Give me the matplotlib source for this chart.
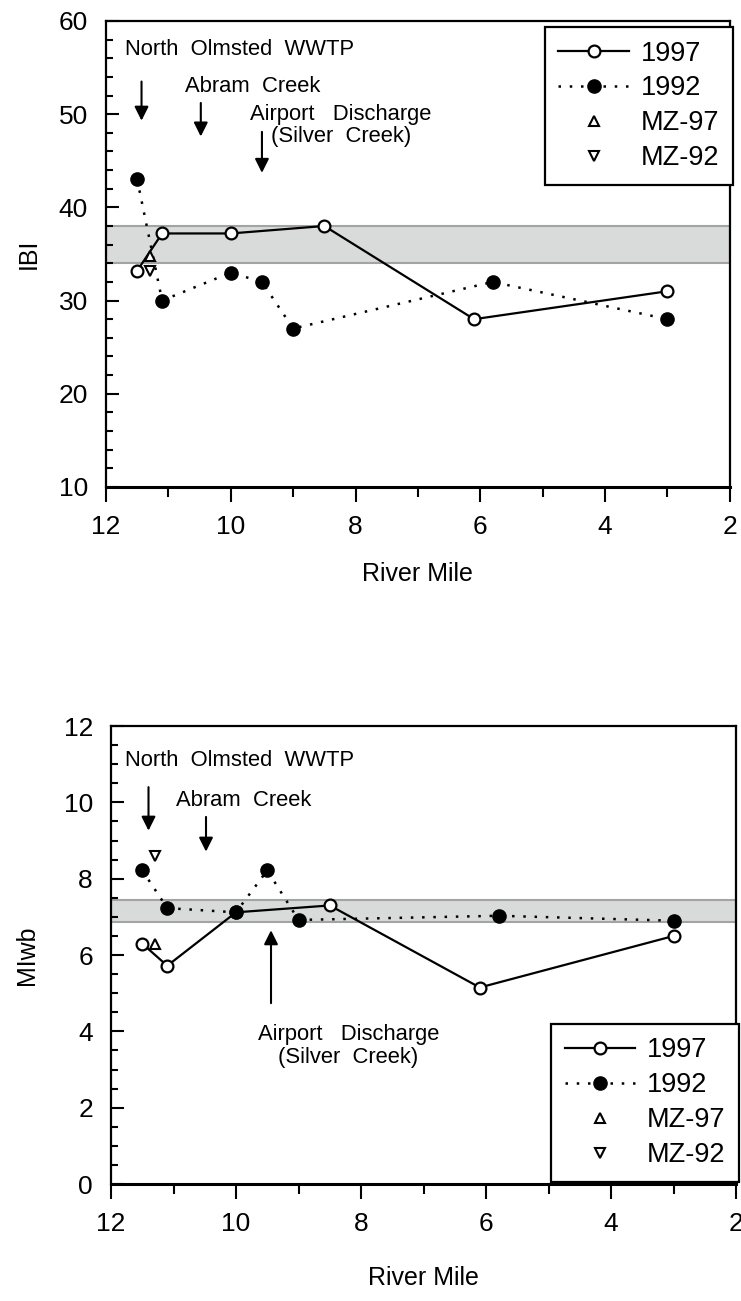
import matplotlib
matplotlib.use("Agg")
import matplotlib.pyplot as plt
from matplotlib.ticker import MultipleLocator

plt.rcParams["font.family"] = ["Liberation Sans", "DejaVu Sans"]

# --- IBI data (top panel) ---
ibi_mile_97 = [11.5, 11.1, 10.0, 8.5, 6.1, 3.0]
ibi_97 = [33.2, 37.2, 37.2, 38.0, 28.0, 31.0]
ibi_mile_92 = [11.5, 11.1, 10.0, 9.5, 9.0, 5.8, 3.0]
ibi_92 = [43.0, 30.0, 33.0, 32.0, 27.0, 32.0, 28.0]
ibi_mz_mile = [11.3]
ibi_mz_97 = [34.8]
ibi_mz_92 = [33.2]
ibi_band = (34, 38)

# --- MIwb data (bottom panel) ---
mi_mile_97 = [11.5, 11.1, 10.0, 8.5, 6.1, 3.0]
mi_97 = [6.3, 5.72, 7.12, 7.3, 5.15, 6.5]
mi_mile_92 = [11.5, 11.1, 10.0, 9.5, 9.0, 5.8, 3.0]
mi_92 = [8.22, 7.23, 7.12, 8.22, 6.92, 7.03, 6.9]
mi_mz_mile = [11.3]
mi_mz_97 = [6.3]
mi_mz_92 = [8.6]
mi_band = (6.87, 7.44)

legend_labels = ["1997", "1992", "MZ-97", "MZ-92"]

fig = plt.figure(figsize=(7.41, 13.01), dpi=100)
ax1 = fig.add_axes([0.143, 0.6257, 0.842, 0.3582])
ax2 = fig.add_axes([0.1498, 0.0899, 0.8435, 0.352])

arrow_kw = dict(arrowstyle="-|>,head_length=0.6,head_width=0.3", color="k",
                lw=1.5, mutation_scale=14, shrinkA=0, shrinkB=0)
leg_kw = dict(fontsize=19.5, handlelength=2.6, handletextpad=0.45,
              borderpad=0.5, labelspacing=0.33, borderaxespad=0,
              fancybox=False, edgecolor="k", framealpha=1)


def draw_panel(ax, m97, v97, m92, v92, mzm, mz97, mz92, band):
    ax.axhspan(band[0], band[1], facecolor="#d9dbdb", edgecolor="#a3a3a3",
               lw=1.5, zorder=1)
    h1, = ax.plot(m97, v97, "-", color="k", lw=1.6, marker="o", ms=8.5,
                  mfc="white", mec="k", mew=1.6, zorder=3)
    h2, = ax.plot(m92, v92, linestyle=(0, (1, 3.5)), color="k", lw=1.8,
                  marker="o", ms=9.5, mfc="k", mec="k", zorder=4)
    h3, = ax.plot(mzm, mz97, "^", ms=7, mfc="white", mec="k", mew=1.5,
                  linestyle="none", zorder=5)
    h4, = ax.plot(mzm, mz92, "v", ms=7, mfc="white", mec="k", mew=1.5,
                  linestyle="none", zorder=5)
    ax.set_xlim(12, 2)
    ax.xaxis.set_major_locator(MultipleLocator(2))
    ax.xaxis.set_minor_locator(MultipleLocator(1))
    ax.tick_params(axis="x", which="major", direction="out", length=11,
                   width=1.5, labelsize=19, pad=9)
    ax.tick_params(axis="x", which="minor", direction="out", length=7,
                   width=1.5)
    ax.tick_params(axis="y", which="major", direction="in", length=9,
                   width=1.5, labelsize=19, pad=13)
    ax.tick_params(axis="y", which="minor", direction="in", length=5,
                   width=1.5)
    for s in ax.spines.values():
        s.set_linewidth(1.6)
    ax.spines["bottom"].set_linewidth(2.2)
    ax.set_xlabel("River Mile", fontsize=18)
    return [h1, h2, h3, h4]


# --- Top: IBI ---
hs = draw_panel(ax1, ibi_mile_97, ibi_97, ibi_mile_92, ibi_92,
                ibi_mz_mile, ibi_mz_97, ibi_mz_92, ibi_band)
ax1.set_ylim(10, 60)
ax1.yaxis.set_major_locator(MultipleLocator(10))
ax1.yaxis.set_minor_locator(MultipleLocator(2))
ax1.set_ylabel("IBI", fontsize=18)
ax1.yaxis.set_label_coords(-0.105, 0.5)
ax1.xaxis.set_label_coords(0.5, -0.161)
ax1.legend(hs, legend_labels, loc="upper right", bbox_to_anchor=(1.005, 0.987),
           **leg_kw).get_frame().set_linewidth(1.6)

ax1.text(11.7, 56.9, "North  Olmsted  WWTP", fontsize=15.8, ha="left", va="center")
ax1.annotate("", xy=(11.43, 49.3), xytext=(11.43, 53.5), arrowprops=arrow_kw)
ax1.text(9.65, 53.0, "Abram  Creek", fontsize=15.8, ha="center", va="center")
ax1.annotate("", xy=(10.48, 47.6), xytext=(10.48, 51.2), arrowprops=arrow_kw)
ax1.text(8.23, 48.8, "Airport   Discharge\n(Silver  Creek)", fontsize=15.8,
         ha="center", va="center", linespacing=1.1)
ax1.annotate("", xy=(9.5, 43.7), xytext=(9.5, 48.1), arrowprops=arrow_kw)

# --- Bottom: MIwb ---
hs = draw_panel(ax2, mi_mile_97, mi_97, mi_mile_92, mi_92,
                mi_mz_mile, mi_mz_97, mi_mz_92, mi_band)
ax2.set_ylim(0, 12)
ax2.yaxis.set_major_locator(MultipleLocator(2))
ax2.yaxis.set_minor_locator(MultipleLocator(0.5))
ax2.set_ylabel("MIwb", fontsize=18)
ax2.yaxis.set_label_coords(-0.115, 0.5)
ax2.xaxis.set_label_coords(0.5, -0.179)
ax2.legend(hs, legend_labels, loc="lower right", bbox_to_anchor=(1.005, 0.005),
           **leg_kw).get_frame().set_linewidth(1.6)

ax2.text(11.78, 11.11, "North  Olmsted  WWTP", fontsize=15.8, ha="left", va="center")
ax2.annotate("", xy=(11.4, 9.26), xytext=(11.4, 10.4), arrowprops=arrow_kw)
ax2.text(9.87, 10.04, "Abram  Creek", fontsize=15.8, ha="center", va="center")
ax2.annotate("", xy=(10.48, 8.71), xytext=(10.48, 9.62), arrowprops=arrow_kw)
ax2.annotate("", xy=(9.44, 6.65), xytext=(9.44, 4.74), arrowprops=arrow_kw)
ax2.text(8.2, 3.62, "Airport   Discharge\n(Silver  Creek)", fontsize=15.8,
         ha="center", va="center", linespacing=1.1)

fig.savefig("out.png", dpi=100)
